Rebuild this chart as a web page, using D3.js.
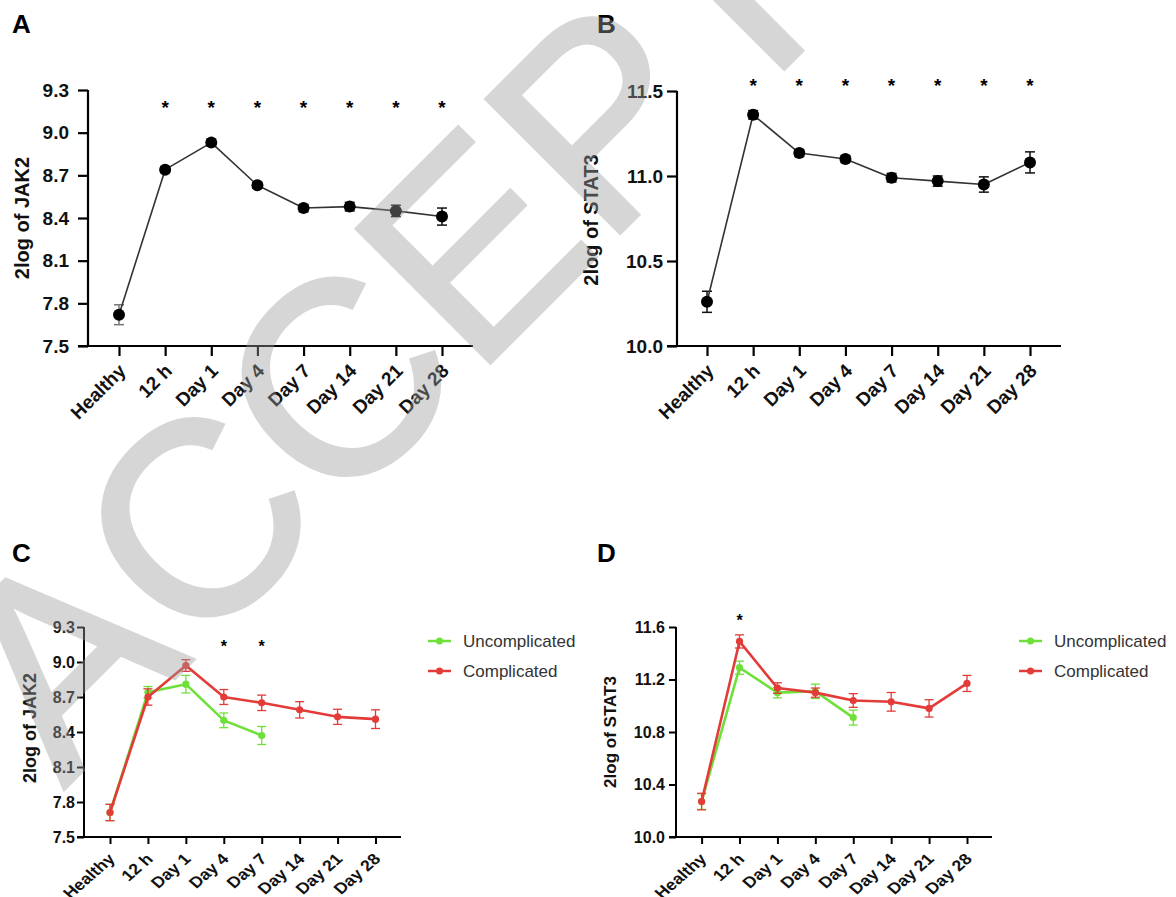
<!DOCTYPE html>
<html>
<head>
<meta charset="utf-8">
<script src="https://cdn.jsdelivr.net/npm/d3@7/dist/d3.min.js"></script>
<style>
  body { margin: 0; background: #fff; }
  svg { display: block; font-family: Arial, "Liberation Sans", Helvetica, sans-serif; }
</style>
</head>
<body>
<svg id="fig" width="1176" height="897"></svg>
<script>
/* ------------ DATA --------------------------------------------------- */
const categories = ['Healthy', '12 h', 'Day 1', 'Day 4', 'Day 7', 'Day 14', 'Day 21', 'Day 28'];

// A - all patients, JAK2
const jak2Mean = [7.72, 8.74, 8.93, 8.63, 8.47, 8.48, 8.45, 8.41];
const jak2Err  = [0.07, 0.02, 0.025, 0.02, 0.025, 0.03, 0.04, 0.06];
// B - all patients, STAT3
const stat3Mean = [10.26, 11.36, 11.135, 11.10, 10.99, 10.97, 10.95, 11.08];
const stat3Err  = [0.062, 0.025, 0.02, 0.02, 0.025, 0.03, 0.045, 0.062];

// C - JAK2 by group
const jak2Uncomp    = [7.71, 8.74, 8.81, 8.50, 8.37];
const jak2UncompErr = [0.07, 0.05, 0.075, 0.063, 0.077];
const jak2Comp      = [7.71, 8.70, 8.97, 8.70, 8.65, 8.59, 8.53, 8.51];
const jak2CompErr   = [0.07, 0.07, 0.05, 0.064, 0.066, 0.07, 0.065, 0.08];

// D - STAT3 by group
const stat3Uncomp    = [10.27, 11.29, 11.10, 11.11, 10.91];
const stat3UncompErr = [0.06, 0.05, 0.04, 0.055, 0.057];
const stat3Comp      = [10.27, 11.49, 11.135, 11.10, 11.04, 11.03, 10.98, 11.17];
const stat3CompErr   = [0.063, 0.05, 0.04, 0.035, 0.052, 0.071, 0.066, 0.061];

const jak2Ticks   = [7.5, 7.8, 8.1, 8.4, 8.7, 9.0, 9.3];
const stat3TicksB = [10.0, 10.5, 11.0, 11.5];
const stat3TicksD = [10.0, 10.4, 10.8, 11.2, 11.6];

const starsA = ['12 h', 'Day 1', 'Day 4', 'Day 7', 'Day 14', 'Day 21', 'Day 28'];
const starsB = ['12 h', 'Day 1', 'Day 4', 'Day 7', 'Day 14', 'Day 21', 'Day 28'];
const starsC = ['Day 4', 'Day 7'];
const starsD = ['12 h'];

const groupNames = ['Uncomplicated', 'Complicated'];

/* ------------ STYLE -------------------------------------------------- */
const GREEN = '#6fe03a';
const RED   = '#e23b38';

const svg = d3.select('#fig');

/* ------------ PANEL -------------------------------------------------- */
function drawPanel(p) {
  const g = svg.append('g');

  const x = d3.scalePoint().domain(categories).range([p.x0, p.x1]);
  const y = d3.scaleLinear().domain(p.domain).range([p.yBot, p.yTop]);

  // panel letter
  g.append('text')
    .attr('x', p.letter[0]).attr('y', p.letter[1])
    .attr('font-size', 26).attr('font-weight', 'bold')
    .text(p.label);

  // y axis
  const ya = g.append('g')
    .attr('transform', `translate(${p.axisL},0)`)
    .call(d3.axisLeft(y).tickValues(p.ticks).tickSize(p.tickLen)
      .tickPadding(p.tickGap).tickFormat(d3.format('.1f')));
  ya.select('.domain').remove();
  ya.selectAll('line').attr('stroke', '#000').attr('stroke-width', p.axisW);
  ya.selectAll('text')
    .attr('font-size', p.tickFs).attr('font-weight', 'bold')
    .attr('font-family', null).attr('fill', '#111');
  g.append('line')
    .attr('x1', p.axisL).attr('x2', p.axisL)
    .attr('y1', p.yTop).attr('y2', p.yBot)
    .attr('stroke', '#000').attr('stroke-width', p.axisW);

  // x axis
  const xa = g.append('g')
    .attr('transform', `translate(0,${p.yBot})`)
    .call(d3.axisBottom(x).tickSize(p.tickLen).tickFormat(''));
  xa.select('.domain').remove();
  xa.selectAll('line').attr('stroke', '#000').attr('stroke-width', p.axisW);
  g.append('line')
    .attr('x1', p.axisL - p.tickLen).attr('x2', p.axisR)
    .attr('y1', p.yBot).attr('y2', p.yBot)
    .attr('stroke', '#000').attr('stroke-width', p.axisW);

  g.selectAll('text.xl')
    .data(categories)
    .join('text')
    .attr('class', 'xl')
    .attr('transform', d => `translate(${x(d) + p.xlOff[0]},${p.yBot + p.xlOff[1]}) scale(${p.xStretch},1) rotate(-45)`)
    .attr('text-anchor', 'end')
    .attr('font-size', p.xFs).attr('font-weight', 'bold').attr('fill', '#111')
    .text(d => d);

  // y label
  g.append('text')
    .attr('transform', `translate(${p.ylab[0]},${p.ylab[1]}) rotate(-90)`)
    .attr('text-anchor', 'middle')
    .attr('font-size', p.ylabFs).attr('font-weight', 'bold').attr('fill', '#111')
    .text(p.ytitle);

  // significance stars
  g.selectAll('text.star')
    .data(p.stars)
    .join('text')
    .attr('class', 'star')
    .attr('x', d => x(d)).attr('y', p.starY + p.starFs * 0.57)
    .attr('text-anchor', 'middle')
    .attr('font-size', p.starFs).attr('font-weight', 'bold')
    .text('*');

  p.series.forEach(s => drawSeries(g, x, y, s));

  if (p.legend) {
    p.legend.items.forEach((it, i) => {
      const ly = p.legend.y + i * 30;
      g.append('line')
        .attr('x1', p.legend.x).attr('x2', p.legend.x + 23)
        .attr('y1', ly).attr('y2', ly)
        .attr('stroke', it.color).attr('stroke-width', 2.5);
      g.append('circle')
        .attr('cx', p.legend.x + 11.5).attr('cy', ly).attr('r', 3.5)
        .attr('fill', it.color);
      g.append('text')
        .attr('x', p.legend.x + 35).attr('y', ly)
        .attr('dy', '0.35em')
        .attr('font-size', 17).attr('fill', '#333')
        .text(it.name);
    });
  }
}

function drawSeries(g, x, y, s) {
  const pts = s.mean.map((m, i) => ({ c: categories[i], m, e: s.err[i] }));
  const sg = g.append('g');

  // error bars
  const eb = sg.selectAll('g.err').data(pts).join('g').attr('class', 'err')
    .attr('stroke', (d, i) => (s.errColors && s.errColors[i]) || s.errColor)
    .attr('stroke-width', s.errW).attr('fill', 'none');
  eb.append('line')
    .attr('x1', d => x(d.c)).attr('x2', d => x(d.c))
    .attr('y1', d => y(d.m - d.e)).attr('y2', d => y(d.m + d.e));
  eb.append('line')
    .attr('x1', d => x(d.c) - s.cap).attr('x2', d => x(d.c) + s.cap)
    .attr('y1', d => y(d.m + d.e)).attr('y2', d => y(d.m + d.e));
  eb.append('line')
    .attr('x1', d => x(d.c) - s.cap).attr('x2', d => x(d.c) + s.cap)
    .attr('y1', d => y(d.m - d.e)).attr('y2', d => y(d.m - d.e));

  sg.append('path')
    .datum(pts)
    .attr('fill', 'none')
    .attr('stroke', s.lineColor).attr('stroke-width', s.lineW)
    .attr('stroke-linejoin', 'round')
    .attr('d', d3.line().x(d => x(d.c)).y(d => y(d.m)));

  sg.selectAll('circle').data(pts).join('circle')
    .attr('cx', d => x(d.c)).attr('cy', d => y(d.m))
    .attr('r', s.r).attr('fill', s.dotColor);
}

/* ------------ PANELS ------------------------------------------------- */
const bigStyle = {
  axisW: 2.2, tickLen: 10, tickFs: 19, xFs: 19, ylabFs: 20, starFs: 19, xlOff: [8, 26], xStretch: 1
};
const smallStyle = {
  axisW: 2, tickLen: 7, tickFs: 16, xFs: 15.5, ylabFs: 18, starFs: 16, xlOff: [6, 23], xStretch: 1.15
};
const blackSeries = (mean, err) => ({
  mean, err, lineColor: '#333', lineW: 1.6, dotColor: '#000', r: 6,
  errColor: '#111', errW: 1.5, cap: 5
});
const colSeries = (mean, err, color) => ({
  mean, err, lineColor: color, lineW: 2.6, dotColor: color, r: 3.6,
  errColor: color, errW: 1.3, cap: 4.5
});

const seriesA = blackSeries(jak2Mean, jak2Err);
seriesA.errColors = ['#777'];

drawPanel(Object.assign({}, bigStyle, {
  label: 'A', letter: [12, 33],
  x0: 119, x1: 442, yTop: 90, yBot: 346, axisL: 88, axisR: 473,
  domain: [7.5, 9.3], ticks: jak2Ticks, tickGap: 9,
  ylab: [29, 218], ytitle: '2log of JAK2',
  stars: starsA, starY: 103,
  series: [seriesA]
}));

drawPanel(Object.assign({}, bigStyle, {
  label: 'B', letter: [597, 33],
  x0: 707, x1: 1030, yTop: 91, yBot: 346, axisL: 677, axisR: 1061,
  domain: [10.0, 11.5], ticks: stat3TicksB, tickGap: 4,
  ylab: [598, 220], ytitle: '2log of STAT3',
  stars: starsB, starY: 81,
  series: [blackSeries(stat3Mean, stat3Err)]
}));

drawPanel(Object.assign({}, smallStyle, {
  label: 'C', letter: [12, 562],
  x0: 110, x1: 375.5, yTop: 627, yBot: 837, axisL: 84, axisR: 401,
  domain: [7.5, 9.3], ticks: jak2Ticks, tickGap: 2,
  ylab: [36, 728], ytitle: '2log of JAK2',
  stars: starsC, starY: 643,
  series: [colSeries(jak2Uncomp, jak2UncompErr, GREEN), colSeries(jak2Comp, jak2CompErr, RED)],
  legend: { x: 428, y: 641, items: [{ name: groupNames[0], color: GREEN }, { name: groupNames[1], color: RED }] }
}));

drawPanel(Object.assign({}, smallStyle, {
  label: 'D', letter: [597, 562],
  x0: 701.6, x1: 967, yTop: 627, yBot: 837, axisL: 676, axisR: 992,
  domain: [10.0, 11.6], ticks: stat3TicksD, tickGap: 4, ylabFs: 17,
  ylab: [616, 732], ytitle: '2log of STAT3',
  stars: starsD, starY: 617,
  series: [colSeries(stat3Uncomp, stat3UncompErr, GREEN), colSeries(stat3Comp, stat3CompErr, RED)],
  legend: { x: 1019, y: 641, items: [{ name: groupNames[0], color: GREEN }, { name: groupNames[1], color: RED }] }
}));

/* ------------ WATERMARK ---------------------------------------------- */
svg.append('text')
  .attr('transform', 'translate(64,789) rotate(-45)')
  .attr('font-size', 275)
  .attr('font-family', '"Liberation Sans", Arial, sans-serif')
  .attr('fill', 'rgb(156,156,156)')
  .attr('stroke', 'rgb(156,156,156)')
  .attr('stroke-width', 4)
  .attr('stroke-linejoin', 'miter')
  .attr('opacity', 0.41)
  .text('ACCEPTED');
</script>
</body>
</html>
